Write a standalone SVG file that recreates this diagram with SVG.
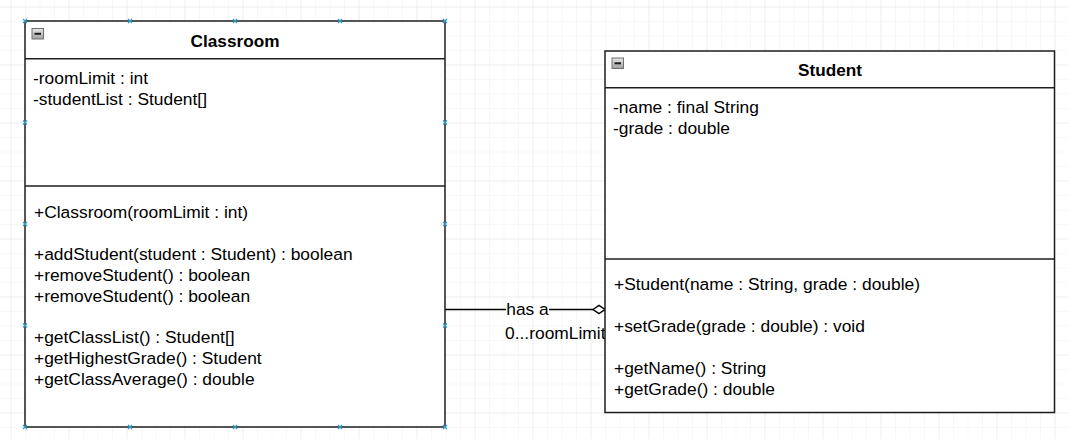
<svg xmlns="http://www.w3.org/2000/svg" width="1069" height="439" viewBox="0 0 1069 439">
<defs>
<pattern id="gMinor" width="14.5" height="14.5" patternUnits="userSpaceOnUse" x="10.5" y="6.5">
<path d="M0 0H14.5M0 0V14.5" fill="none" stroke="#f1f1f1" stroke-width="1"/>
</pattern>
<pattern id="gMajor" width="58" height="58" patternUnits="userSpaceOnUse" x="10.5" y="6.5">
<path d="M0 0H58M0 0V58" fill="none" stroke="#e3e3e3" stroke-width="1"/>
</pattern>
<linearGradient id="btn" x1="0" y1="0" x2="0" y2="1">
<stop offset="0" stop-color="#e8e8e8"/>
<stop offset="1" stop-color="#a0a0a0"/>
</linearGradient>
<g id="collapse">
<rect x="0.5" y="0.5" width="11.5" height="10.5" fill="url(#btn)" stroke="#707070" stroke-width="1"/>
<path d="M3 5.8H9.5" stroke="#1a1a1a" stroke-width="2"/>
</g>
<path id="xm" d="M-2 -2L2 2M-2 2L2 -2" stroke="#2a9fd6" stroke-width="1.2" fill="none"/>
</defs>
<style>
.box{fill:#fff;stroke:#1e1e1e;stroke-width:1.5}
.div{stroke:#1e1e1e;stroke-width:1.5}
.t{font-family:"Liberation Sans",Arial,sans-serif;font-size:17.4px;fill:#000}
.h{font-family:"Liberation Sans",Arial,sans-serif;font-size:17.2px;font-weight:bold;fill:#000;text-anchor:middle}
.edge{stroke:#000;stroke-width:1.5;fill:none}
</style>
<rect width="1069" height="439" fill="#fff"/>
<rect width="1069" height="439" fill="url(#gMinor)"/>
<rect width="1069" height="439" fill="url(#gMajor)"/>

<g id="connectors">
<path class="edge" d="M445 309.5H593"/>
<path d="M593 309.5L599 305.5L605 309.5L599 313.5Z" fill="#fff" stroke="#000" stroke-width="1.5"/>
<rect x="506" y="300" width="43" height="18" fill="#fff"/>
<text class="t" x="527.5" y="315" text-anchor="middle">has a</text>
<text class="t" x="505" y="338.5">0...roomLimit</text>
</g>

<g id="classroom">
<rect class="box" x="25" y="21" width="420" height="406"/>
<line class="div" x1="25" y1="58.7" x2="445" y2="58.7"/>
<line class="div" x1="25" y1="186" x2="445" y2="186"/>
<use href="#collapse" x="31.5" y="28"/>
<text class="h" x="235" y="47">Classroom</text>
<text class="t" x="33" y="84">-roomLimit : int</text>
<text class="t" x="33" y="105">-studentList : Student[]</text>
<text class="t" x="34" y="218">+Classroom(roomLimit : int)</text>
<text class="t" x="34" y="260">+addStudent(student : Student) : boolean</text>
<text class="t" x="34" y="280.5">+removeStudent() : boolean</text>
<text class="t" x="34" y="302">+removeStudent() : boolean</text>
<text class="t" x="34" y="343">+getClassList() : Student[]</text>
<text class="t" x="34" y="364">+getHighestGrade() : Student</text>
<text class="t" x="34" y="385">+getClassAverage() : double</text>
<use href="#xm" x="25" y="21"/><use href="#xm" x="130" y="21"/><use href="#xm" x="235" y="21"/><use href="#xm" x="340" y="21"/><use href="#xm" x="445" y="21"/>
<use href="#xm" x="25" y="427"/><use href="#xm" x="130" y="427"/><use href="#xm" x="235" y="427"/><use href="#xm" x="340" y="427"/><use href="#xm" x="445" y="427"/>
<use href="#xm" x="25" y="122.5"/><use href="#xm" x="25" y="224"/><use href="#xm" x="25" y="325.5"/>
<use href="#xm" x="445" y="122.5"/><use href="#xm" x="445" y="224"/><use href="#xm" x="445" y="325.5"/>
</g>

<g id="student">
<rect class="box" x="605" y="51" width="449.5" height="361.5"/>
<line class="div" x1="605" y1="87.7" x2="1054.5" y2="87.7"/>
<line class="div" x1="605" y1="259" x2="1054.5" y2="259"/>
<use href="#collapse" x="611.5" y="57.5"/>
<text class="h" x="830" y="76">Student</text>
<text class="t" x="613" y="112.5">-name : final String</text>
<text class="t" x="613" y="133.5">-grade : double</text>
<text class="t" x="614" y="290">+Student(name : String, grade : double)</text>
<text class="t" x="614" y="332">+setGrade(grade : double) : void</text>
<text class="t" x="614" y="373.5">+getName() : String</text>
<text class="t" x="614" y="395">+getGrade() : double</text>
</g>
</svg>
